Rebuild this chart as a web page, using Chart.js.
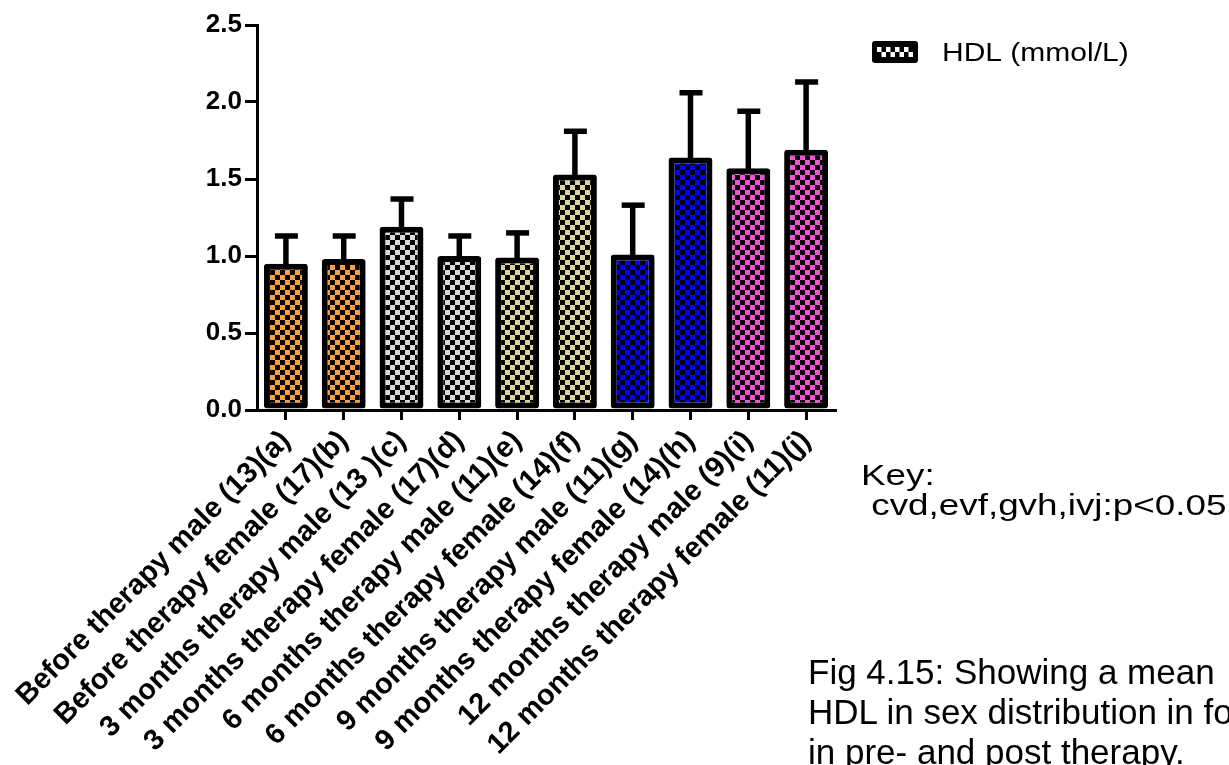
<!DOCTYPE html>
<html>
<head>
<meta charset="utf-8">
<script src="https://cdn.jsdelivr.net/npm/chart.js@4.4.1/dist/chart.umd.min.js"></script>
<style>
  body { margin: 0; background: #fff; overflow: hidden; }
  #wrap { position: relative; width: 1229px; height: 765px; overflow: hidden; }
  #myChart { position: absolute; left: 0; top: 0; }
  .note { position: absolute; font-family: Arial, "Liberation Sans", sans-serif; color: #000; white-space: pre; transform-origin: 0 0; }
  #key { left: 861px; top: 460px; font-size: 29px; line-height: 30px; transform: scaleX(1.27); }
  #fig { left: 808px; top: 652px; font-size: 35px; line-height: 40px; }
</style>
</head>
<body>
<div id="wrap">
  <canvas id="myChart" width="1229" height="765"></canvas>
  <div class="note" id="key">Key:
 cvd,evf,gvh,ivj:p&lt;0.05</div>
  <div class="note" id="fig">Fig 4.15: Showing a mean
HDL in sex distribution in fo
in pre- and post therapy.</div>
</div>
<script>
// data
const categories = [
  'Before therapy male (13)(a)',
  'Before therapy female (17)(b)',
  '3 months therapy male (13 )(c)',
  '3 months therapy female (17)(d)',
  '6 months therapy male (11)(e)',
  '6 months therapy female (14)(f)',
  '9 months therapy male (11)(g)',
  '9 months therapy female (14)(h)',
  '12 months therapy male (9)(i)',
  '12 months therapy female (11)(j)'
];
const hdlMean = [0.95, 0.98, 1.19, 1.00, 0.99, 1.53, 1.01, 1.64, 1.57, 1.69];
const hdlError = [0.18, 0.15, 0.18, 0.13, 0.16, 0.28, 0.32, 0.42, 0.37, 0.44];
const yTicks = [0, 0.5, 1.0, 1.5, 2.0, 2.5];

const barColors = ['#F9A043', '#F9A043', '#D9D9D9', '#D9D9D9', '#DAD59E', '#DAD59E',
                   '#0000FF', '#0000FF', '#F452D4', '#F452D4'];

// checker pattern, black squares on the bar colour
let checker = (color) => {
    let c = document.createElement('canvas');
    c.width = 10; c.height = 10;
    let g = c.getContext('2d');
    g.fillStyle = color;
    g.fillRect(0, 0, 10, 10);
    g.fillStyle = '#000';
    g.fillRect(0, 0, 5, 5);
    g.fillRect(5, 5, 5, 5);
    return g.createPattern(c, 'repeat');
};

const FONT = 'Arial, "Liberation Sans", sans-serif';

// upper error bars
const errorBars = {
  id: 'errorBars',
  afterDatasetsDraw(chart) {
    const ctx = chart.ctx;
    const y = chart.scales.y;
    const meta = chart.getDatasetMeta(0);
    ctx.save();
    ctx.strokeStyle = '#000';
    ctx.lineWidth = 5.5;
    meta.data.forEach((bar, i) => {
      let top = y.getPixelForValue(hdlMean[i] + hdlError[i]);
      ctx.beginPath();
      ctx.moveTo(bar.x, bar.y + 2);
      ctx.lineTo(bar.x, top);
      ctx.stroke();
      ctx.beginPath();
      ctx.moveTo(bar.x - 11, top);
      ctx.lineTo(bar.x + 12, top);
      ctx.stroke();
    });
    ctx.restore();
  }
};

// legend: swatch + label at top right
const sideLegend = {
  id: 'sideLegend',
  afterDraw(chart) {
    const ctx = chart.ctx;
    ctx.save();
    ctx.fillStyle = '#000';
    ctx.beginPath();
    ctx.roundRect(872, 41, 46, 22, 3);
    ctx.fill();
    ctx.fillStyle = '#fff';
    for (let k = 0; k < 8; k++) {
      let sx = 877 + k * 4.5;
      if (k % 2 === 0) ctx.fillRect(sx, 47, 4.5, 5);
      else ctx.fillRect(sx, 52, 4.5, 5);
    }
    ctx.translate(942, 61);
    ctx.scale(1.2, 1);
    ctx.fillStyle = '#000';
    ctx.font = '25px ' + FONT;
    ctx.textBaseline = 'alphabetic';
    ctx.fillText(chart.data.datasets[0].label, 0, 0);
    ctx.restore();
  }
};

const ctx = document.getElementById('myChart');

new Chart(ctx, {
  type: 'bar',
  data: {
    labels: categories,
    datasets: [{
      label: 'HDL (mmol/L)',
      data: hdlMean,
      backgroundColor: barColors.map(checker),
      borderColor: '#000',
      borderWidth: 6,
      borderRadius: 3,
      borderSkipped: false,
      barPercentage: 0.76,
      categoryPercentage: 1.0
    }]
  },
  options: {
    responsive: false,
    animation: false,
    events: [],
    layout: { padding: { top: 25, right: 394, left: 0, bottom: 0 } },
    plugins: {
      legend: { display: false },
      tooltip: { enabled: false }
    },
    scales: {
      x: {
        offset: true,
        grid: { offset: false, drawOnChartArea: false, drawTicks: true, tickLength: 10, color: '#000', lineWidth: 3 },
        border: { display: true, color: '#000', width: 3 },
        ticks: {
          autoSkip: false,
          minRotation: 45,
          maxRotation: 45,
          padding: 4,
          color: '#000',
          font: { family: FONT, size: 29, weight: 'bold' }
        },
        afterFit: (scale) => {
          scale.height = 355;
          scale.paddingLeft = 0;
          scale.paddingRight = 0;
        }
      },
      y: {
        min: 0,
        max: 2.5,
        afterBuildTicks: (scale) => { scale.ticks = yTicks.map(v => ({ value: v })); },
        grid: { drawOnChartArea: false, drawTicks: true, tickLength: 12, color: '#000', lineWidth: 3 },
        border: { display: true, color: '#000', width: 3 },
        ticks: {
          padding: 3,
          color: '#000',
          font: { family: FONT, size: 26, weight: 'bold' },
          callback: (v) => Number(v).toFixed(1)
        },
        afterFit: (scale) => { scale.width = 257; }
      }
    }
  },
  plugins: [errorBars, sideLegend]
});
</script>
</body>
</html>
